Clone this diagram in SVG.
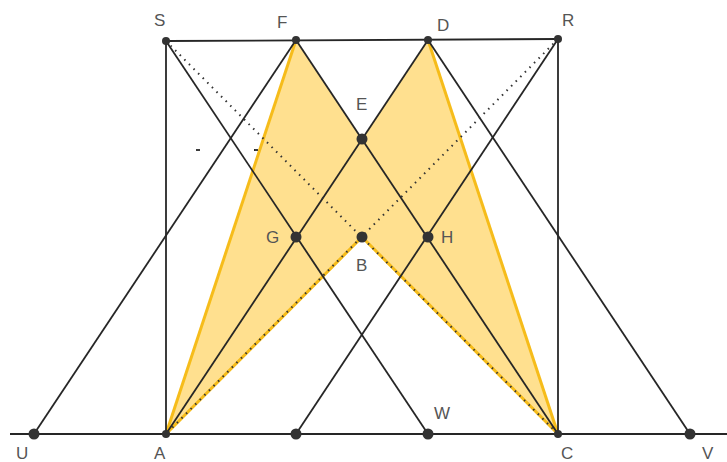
<svg xmlns="http://www.w3.org/2000/svg" width="727" height="462" viewBox="0 0 727 462">
<style>
.ln{stroke:#262626;stroke-width:1.8;fill:none}
.dot{stroke:#333;stroke-width:2;stroke-dasharray:1.5 5;fill:none}
.yel{stroke:#F6BC1A;stroke-width:3;fill:none;stroke-linejoin:round}
.pt{fill:#333}
.lb{font-family:"Liberation Sans",Arial,sans-serif;font-size:17px;fill:#555}
</style>
<rect width="727" height="462" fill="#fff"/>
<g id="fill">
<polygon points="166,434 296,40 362,139 428,40 558,434 362,237" fill="#FFE08F" stroke="none"/>
<polyline class="yel" points="166,434 296,40"/>
<polyline class="yel" points="428,40 558,434"/>
<polyline class="yel" points="166,434 362,237 558,434"/>
</g>
<g id="connectors">
<line class="ln" x1="10" y1="434" x2="727" y2="434"/>
<line class="ln" x1="166" y1="41" x2="558" y2="39"/>
<line class="ln" x1="166" y1="41" x2="166" y2="434"/>
<line class="ln" x1="558" y1="39" x2="558" y2="434"/>
<line class="ln" x1="34" y1="434" x2="296" y2="40"/>
<line class="ln" x1="296" y1="40" x2="558" y2="434"/>
<line class="ln" x1="166" y1="434" x2="428" y2="40"/>
<line class="ln" x1="428" y1="40" x2="690" y2="434"/>
<line class="ln" x1="166" y1="41" x2="428" y2="434"/>
<line class="ln" x1="558" y1="39" x2="296" y2="434"/>
<line class="dot" x1="166" y1="41" x2="558" y2="434"/>
<line class="dot" x1="558" y1="39" x2="166" y2="434"/>
<line class="ln" x1="196" y1="150" x2="200" y2="150"/>
<line class="ln" x1="254" y1="150" x2="258" y2="150"/>
</g>
<g id="S"><circle class="pt" cx="166" cy="41" r="4"/><text class="lb" x="154" y="26">S</text></g>
<g id="F"><circle class="pt" cx="296" cy="40" r="4"/><text class="lb" x="277" y="28">F</text></g>
<g id="D"><circle class="pt" cx="428" cy="40" r="4"/><text class="lb" x="437" y="31">D</text></g>
<g id="R"><circle class="pt" cx="558" cy="39" r="4"/><text class="lb" x="562" y="26">R</text></g>
<g id="E"><circle class="pt" cx="362" cy="139" r="5.5"/><text class="lb" x="356" y="110">E</text></g>
<g id="G"><circle class="pt" cx="296" cy="237" r="5.5"/><text class="lb" x="266" y="243">G</text></g>
<g id="B"><circle class="pt" cx="362" cy="237" r="5.5"/><text class="lb" x="356" y="271">B</text></g>
<g id="H"><circle class="pt" cx="428" cy="237" r="5.5"/><text class="lb" x="441" y="243">H</text></g>
<g id="U"><circle class="pt" cx="34" cy="434" r="5.5"/><text class="lb" x="16" y="459">U</text></g>
<g id="A"><circle class="pt" cx="166" cy="434" r="4"/><text class="lb" x="154" y="459">A</text></g>
<g id="M"><circle class="pt" cx="296" cy="434" r="5.5"/></g>
<g id="W"><circle class="pt" cx="428" cy="434" r="5.5"/><text class="lb" x="434" y="419">W</text></g>
<g id="C"><circle class="pt" cx="558" cy="434" r="4"/><text class="lb" x="561" y="459">C</text></g>
<g id="V"><circle class="pt" cx="690" cy="434" r="5.5"/><text class="lb" x="702" y="459">V</text></g>
</svg>
